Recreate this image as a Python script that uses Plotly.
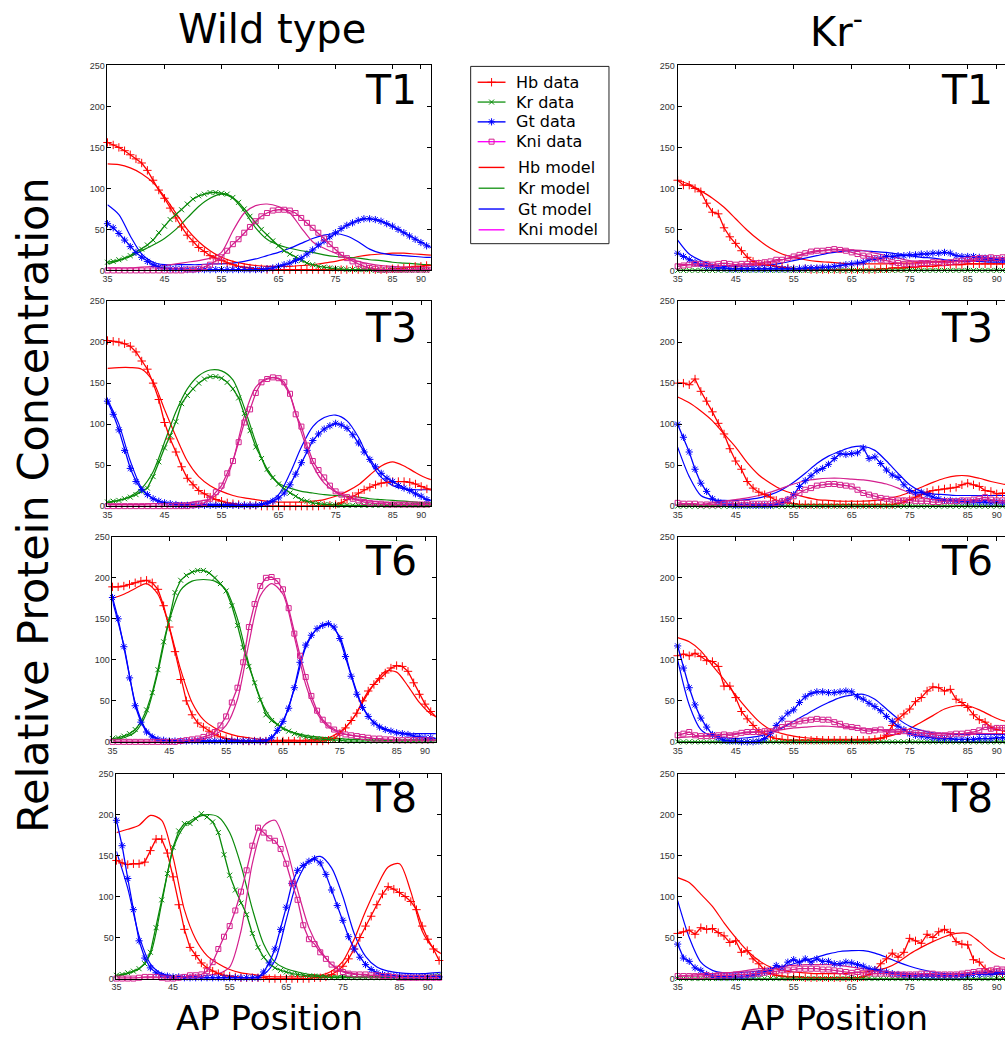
import plotly.graph_objects as go

W, H = 1005, 1040

# ---------------- x positions (AP %) ----------------
AP_DATA = [35, 36, 37, 38, 39, 40, 41, 42, 43, 44,
           45, 46, 47, 48, 49, 50, 51, 52, 53, 54,
           55, 56, 57, 58, 59, 60, 61, 62, 63, 64,
           65, 66, 67, 68, 69, 70, 71, 72, 73, 74,
           75, 76, 77, 78, 79, 80, 81, 82, 83, 84,
           85, 86, 87, 88, 89, 90, 91, 92]
AP_MODEL = [35, 37, 39, 41, 43, 45, 47, 49, 51, 53,
            55, 57, 59, 61, 63, 65, 67, 69, 71, 73,
            75, 77, 79, 81, 83, 85, 87, 89, 91, 93]

X_TICKS = [35, 45, 55, 65, 75, 85, 90]
Y_TICKS = [0, 50, 100, 150, 200, 250]

# ---------------- Wild type T1 ----------------
WT_T1_HB_DATA = [156, 153, 150, 146, 141, 136, 131, 122, 110, 98,
                 88, 76, 64, 53, 43, 35, 28, 23, 18, 15,
                 12, 9, 7, 5, 4, 3, 2, 2, 1, 1,
                 1, 1, 1, 1, 1, 1, 1, 1, 1, 1,
                 1, 1, 1, 1, 1, 1, 1, 1, 1, 1,
                 2, 2, 3, 4, 5, 5, 6, 6]
WT_T1_HB_MODEL = [130, 129, 125, 118, 107, 90, 70, 50, 35, 24,
                  16, 11, 8, 6, 5, 5, 5, 6, 7, 9,
                  11, 14, 17, 19, 20, 21, 21, 20, 19, 18]
WT_T1_KR_DATA = [10, 11, 13, 15, 18, 22, 26, 31, 37, 46,
                 54, 62, 68, 74, 81, 87, 91, 93, 95, 95,
                 94, 93, 89, 83, 75, 66, 58, 50, 43, 36,
                 30, 24, 20, 16, 12, 9, 7, 5, 4, 3,
                 2, 2, 1, 1, 1, 1, 1, 0, 0, 0,
                 0, 0, 0, 0, 0, 0, 0, 0]
WT_T1_KR_MODEL = [8, 12, 17, 24, 31, 39, 50, 64, 78, 88,
                  93, 88, 72, 52, 38, 31, 27, 24, 22, 19,
                  17, 16, 15, 13, 12, 10, 9, 8, 7, 7]
WT_T1_GT_DATA = [57, 52, 45, 37, 29, 22, 16, 11, 7, 4,
                 3, 2, 2, 2, 1, 1, 1, 1, 1, 1,
                 1, 1, 1, 1, 1, 1, 1, 1, 2, 3,
                 5, 7, 9, 12, 15, 20, 25, 31, 36, 41,
                 46, 51, 55, 58, 61, 63, 63, 62, 60, 57,
                 54, 50, 46, 42, 38, 34, 30, 27]
WT_T1_GT_MODEL = [80, 68, 42, 20, 10, 7, 7, 7, 7, 8,
                  8, 9, 11, 14, 18, 22, 27, 33, 39, 43,
                  45, 42, 35, 26, 21, 19, 18, 17, 16, 16]
WT_T1_KNI_DATA = [0, 0, 0, 0, 0, 0, 0, 0, 0, 0,
                  0, 0, 0, 0, 1, 1, 2, 4, 7, 11,
                  16, 24, 32, 38, 46, 53, 60, 66, 70, 73,
                  74, 74, 73, 70, 64, 58, 52, 46, 39, 32,
                  25, 19, 15, 11, 8, 5, 3, 2, 1, 1,
                  1, 1, 1, 1, 1, 1, 1, 1]
WT_T1_KNI_MODEL = [3, 3, 3, 4, 5, 6, 8, 10, 12, 15,
                   22, 48, 70, 79, 81, 78, 70, 52, 35, 27,
                   21, 16, 11, 8, 6, 5, 4, 3, 3, 3]

# ---------------- Wild type T3 ----------------
WT_T3_HB_DATA = [202, 201, 200, 198, 195, 188, 177, 167, 150, 130,
                 102, 82, 66, 48, 34, 26, 19, 15, 11, 8,
                 6, 4, 3, 2, 1, 1, 1, 0, 0, 0,
                 0, 0, 0, 0, 0, 0, 0, 0, 1, 1,
                 2, 4, 8, 12, 16, 20, 23, 26, 28, 29,
                 30, 30, 30, 29, 27, 24, 21, 19]
WT_T3_HB_MODEL = [168, 169, 169, 167, 152, 118, 85, 55, 36, 25,
                  18, 13, 10, 8, 6, 5, 5, 5, 6, 8,
                  12, 18, 26, 38, 49, 54, 49, 41, 34, 30]
WT_T3_KR_DATA = [5, 6, 7, 9, 11, 14, 18, 22, 36, 54,
                 71, 86, 103, 125, 135, 143, 150, 155, 158, 158,
                 156, 151, 143, 132, 113, 92, 72, 58, 45, 35,
                 27, 21, 16, 12, 8, 6, 4, 3, 2, 2,
                 1, 1, 1, 1, 1, 1, 1, 1, 1, 1,
                 1, 1, 1, 1, 1, 1, 1, 1]
WT_T3_KR_MODEL = [4, 7, 12, 22, 42, 78, 115, 143, 159, 166,
                  165, 154, 120, 78, 43, 28, 22, 18, 16, 14,
                  13, 12, 11, 9, 8, 7, 6, 5, 4, 4]
WT_T3_GT_DATA = [128, 112, 93, 68, 46, 30, 20, 14, 9, 6,
                 4, 3, 2, 1, 1, 1, 1, 1, 1, 1,
                 1, 1, 1, 1, 1, 1, 1, 2, 3, 6,
                 10, 16, 26, 39, 53, 68, 80, 88, 94, 98,
                 101, 99, 95, 87, 77, 66, 57, 48, 40, 34,
                 30, 25, 22, 19, 15, 12, 8, 6]
WT_T3_GT_MODEL = [130, 100, 55, 22, 9, 4, 3, 2, 2, 2,
                  2, 2, 2, 2, 5, 14, 40, 72, 97, 108,
                  111, 104, 84, 55, 35, 25, 21, 20, 20, 20]
WT_T3_KNI_DATA = [0, 0, 0, 0, 0, 0, 0, 0, 0, 0,
                  0, 0, 0, 0, 0, 1, 2, 4, 9, 17,
                  25, 40, 55, 78, 102, 118, 138, 151, 155, 157,
                  156, 151, 137, 112, 97, 74, 55, 44, 35, 25,
                  18, 14, 11, 9, 7, 5, 4, 3, 3, 2,
                  2, 2, 2, 2, 2, 2, 2, 2]
WT_T3_KNI_MODEL = [2, 2, 2, 2, 3, 3, 4, 4, 6, 9,
                   20, 55, 110, 145, 156, 155, 135, 90, 50, 28,
                   17, 11, 8, 6, 5, 4, 4, 3, 3, 3]

# ---------------- Wild type T6 ----------------
WT_T6_HB_DATA = [189, 189, 190, 192, 194, 196, 197, 194, 186, 166,
                 140, 110, 76, 50, 33, 23, 18, 13, 9, 6,
                 4, 3, 2, 1, 1, 1, 1, 1, 1, 1,
                 1, 1, 1, 1, 1, 1, 1, 1, 2, 4,
                 10, 17, 26, 35, 50, 62, 70, 77, 84, 90,
                 93, 92, 86, 72, 58, 46, 37, 30]
WT_T6_HB_MODEL = [175, 180, 187, 193, 180, 140, 88, 48, 27, 17,
                  11, 7, 5, 3, 2, 2, 2, 2, 3, 5,
                  12, 25, 48, 70, 86, 85, 68, 48, 34, 28]
WT_T6_KR_DATA = [4, 5, 7, 10, 15, 24, 39, 60, 88, 122,
                 150, 182, 197, 203, 207, 209, 209, 206, 200, 193,
                 184, 166, 142, 115, 92, 72, 51, 33, 26, 21,
                 16, 13, 10, 8, 6, 5, 4, 3, 3, 2,
                 2, 1, 1, 1, 1, 1, 1, 1, 1, 1,
                 1, 1, 1, 1, 1, 1, 1, 1]
WT_T6_KR_MODEL = [2, 5, 12, 35, 85, 148, 185, 196, 198, 196,
                  185, 150, 95, 52, 28, 17, 11, 8, 6, 5,
                  4, 3, 3, 2, 2, 2, 2, 2, 2, 2]
WT_T6_GT_DATA = [176, 150, 116, 78, 44, 24, 12, 6, 3, 2,
                 1, 1, 1, 1, 1, 1, 1, 1, 1, 1,
                 1, 1, 1, 1, 1, 1, 1, 1, 5, 14,
                 25, 41, 66, 97, 118, 130, 138, 142, 144, 140,
                 126, 104, 80, 58, 42, 31, 23, 18, 15, 13,
                 11, 10, 9, 7, 6, 5, 5, 4]
WT_T6_GT_MODEL = [172, 118, 48, 14, 4, 2, 1, 1, 1, 1,
                  1, 1, 1, 1, 5, 24, 65, 115, 138, 144,
                  128, 82, 43, 24, 16, 12, 10, 10, 10, 10]
WT_T6_KNI_DATA = [0, 0, 0, 0, 0, 0, 0, 0, 0, 0,
                  0, 0, 1, 2, 3, 4, 6, 8, 12, 20,
                  31, 48, 66, 97, 140, 168, 190, 200, 201, 196,
                  186, 163, 132, 105, 79, 56, 38, 27, 20, 15,
                  11, 9, 8, 7, 6, 5, 4, 4, 3, 3,
                  2, 2, 2, 2, 2, 2, 2, 2]
WT_T6_KNI_MODEL = [1, 1, 1, 1, 1, 1, 1, 2, 4, 8,
                   20, 52, 120, 178, 193, 180, 128, 70, 35, 18,
                   11, 8, 6, 4, 3, 2, 2, 2, 2, 2]

# ---------------- Wild type T8 ----------------
WT_T8_HB_DATA = [144, 141, 139, 140, 140, 142, 156, 170, 170, 153,
                 124, 90, 60, 38, 28, 19, 13, 9, 6, 4,
                 3, 2, 1, 1, 1, 1, 1, 0, 0, 0,
                 0, 0, 0, 0, 0, 1, 1, 2, 5, 9,
                 15, 24, 36, 50, 64, 76, 90, 103, 112, 109,
                 105, 100, 94, 84, 64, 48, 36, 22]
WT_T8_HB_MODEL = [178, 182, 187, 199, 193, 148, 84, 48, 28, 18,
                  11, 7, 5, 3, 2, 2, 2, 3, 4, 9,
                  21, 48, 82, 112, 136, 140, 106, 58, 37, 28]
WT_T8_KR_DATA = [4, 5, 7, 9, 12, 18, 32, 62, 96, 128,
                 160, 180, 189, 189, 195, 201, 197, 191, 178, 151,
                 126, 108, 92, 78, 55, 38, 26, 18, 13, 10,
                 8, 6, 5, 4, 3, 3, 2, 2, 1, 1,
                 1, 1, 1, 1, 1, 1, 1, 1, 1, 1,
                 1, 1, 1, 1, 2, 2, 3, 4]
WT_T8_KR_MODEL = [3, 6, 12, 30, 92, 158, 186, 196, 200, 197,
                  178, 138, 85, 42, 20, 12, 8, 5, 4, 3,
                  3, 2, 2, 2, 2, 2, 2, 2, 2, 2]
WT_T8_GT_DATA = [193, 162, 122, 84, 46, 25, 13, 7, 4, 3,
                 2, 2, 1, 1, 1, 1, 1, 1, 1, 1,
                 1, 1, 1, 1, 1, 1, 8, 19, 36, 60,
                 87, 116, 132, 138, 143, 146, 141, 127, 108, 89,
                 71, 51, 36, 26, 17, 11, 7, 5, 4, 3,
                 3, 2, 2, 2, 2, 2, 2, 2]
WT_T8_GT_MODEL = [155, 110, 52, 18, 6, 3, 2, 1, 1, 1,
                  1, 1, 1, 5, 22, 72, 120, 143, 149, 135,
                  100, 55, 27, 14, 9, 7, 6, 6, 7, 8]
WT_T8_KNI_DATA = [0, 0, 0, 0, 1, 2, 2, 2, 1, 0,
                  0, 1, 2, 4, 4, 5, 9, 20, 36, 51,
                  64, 83, 106, 132, 162, 184, 178, 171, 168, 158,
                  140, 116, 96, 65, 48, 42, 32, 24, 17, 12,
                  8, 6, 5, 5, 5, 4, 4, 3, 3, 2,
                  1, 1, 1, 1, 1, 1, 1, 1]
WT_T8_KNI_MODEL = [1, 1, 1, 1, 1, 1, 2, 2, 4, 6,
                   14, 58, 140, 186, 193, 160, 108, 62, 35, 17,
                   9, 6, 4, 3, 2, 2, 1, 1, 1, 1]

# ---------------- Kr- mutant: Kr is absent ----------------
KR_MUT_DATA = [0, 0, 0, 0, 0, 0, 0, 0, 0, 0,
               0, 0, 0, 0, 0, 0, 0, 0, 0, 0,
               0, 0, 0, 0, 0, 0, 0, 0, 0, 0,
               0, 0, 0, 0, 0, 0, 0, 0, 0, 0,
               0, 0, 0, 0, 0, 0, 0, 0, 0, 0,
               0, 0, 0, 0, 0, 0, 0, 0]
KR_MUT_MODEL = [0, 0, 0, 0, 0, 0, 0, 0, 0, 0,
                0, 0, 0, 0, 0, 0, 0, 0, 0, 0,
                0, 0, 0, 0, 0, 0, 0, 0, 0, 0]

# ---------------- Kr- T1 ----------------
KM_T1_HB_DATA = [110, 104, 104, 100, 96, 82, 71, 69, 52, 41,
                 33, 24, 16, 11, 8, 7, 6, 5, 4, 3,
                 2, 2, 2, 1, 1, 1, 1, 1, 1, 1,
                 1, 1, 1, 1, 1, 2, 2, 3, 3, 3,
                 4, 4, 5, 5, 5, 6, 6, 7, 7, 7,
                 8, 8, 8, 8, 8, 8, 8, 8]
KM_T1_HB_MODEL = [110, 105, 97, 88, 77, 63, 49, 37, 27, 20,
                  16, 13, 11, 10, 9, 8, 8, 8, 8, 9,
                  9, 10, 11, 11, 12, 12, 12, 12, 12, 12]
KM_T1_GT_DATA = [21, 17, 13, 10, 7, 5, 4, 3, 3, 2,
                 2, 2, 2, 2, 2, 2, 2, 2, 2, 2,
                 2, 2, 3, 3, 3, 4, 4, 5, 6, 7,
                 8, 9, 10, 13, 14, 15, 17, 17, 18, 18,
                 19, 19, 20, 20, 21, 21, 22, 21, 18, 17,
                 17, 17, 16, 15, 14, 13, 13, 12]
KM_T1_GT_MODEL = [37, 20, 12, 7, 5, 5, 5, 6, 7, 9,
                  12, 15, 18, 21, 23, 24, 24, 23, 22, 20,
                  18, 16, 15, 13, 12, 11, 11, 10, 10, 10]
KM_T1_KNI_DATA = [5, 6, 7, 8, 8, 8, 7, 8, 9, 8,
                  7, 8, 8, 9, 9, 10, 11, 13, 13, 15,
                  17, 19, 21, 23, 24, 24, 25, 26, 25, 24,
                  22, 20, 18, 17, 15, 13, 12, 10, 9, 8,
                  8, 8, 9, 9, 10, 10, 9, 10, 11, 12,
                  13, 14, 15, 15, 16, 15, 16, 15]
KM_T1_KNI_MODEL = [7, 7, 6, 6, 6, 6, 7, 8, 10, 13,
                   16, 20, 23, 25, 25, 25, 24, 21, 18, 15,
                   12, 11, 10, 10, 11, 12, 13, 14, 14, 14]

# ---------------- Kr- T3 ----------------
KM_T3_HB_DATA = [150, 150, 148, 155, 140, 128, 115, 101, 88, 70,
                 55, 45, 30, 22, 17, 14, 11, 7, 5, 4,
                 3, 2, 2, 2, 2, 2, 2, 2, 2, 2,
                 2, 2, 2, 2, 2, 2, 2, 2, 3, 5,
                 8, 11, 14, 17, 19, 20, 21, 22, 23, 26,
                 28, 26, 24, 19, 18, 15, 16, 16]
KM_T3_HB_MODEL = [133, 126, 116, 104, 88, 72, 53, 38, 28, 20,
                  15, 11, 8, 7, 6, 6, 6, 7, 9, 12,
                  17, 23, 29, 34, 37, 37, 34, 30, 27, 25]
KM_T3_GT_DATA = [100, 84, 66, 45, 28, 18, 9, 5, 3, 2,
                 1, 1, 1, 1, 1, 1, 1, 2, 4, 8,
                 14, 24, 31, 37, 43, 46, 51, 58, 64, 63,
                 64, 65, 71, 58, 60, 52, 44, 38, 35, 26,
                 19, 16, 17, 14, 11, 9, 7, 7, 6, 6,
                 5, 5, 5, 5, 4, 5, 4, 4]
KM_T3_GT_MODEL = [72, 36, 13, 8, 7, 7, 8, 10, 14, 20,
                  29, 40, 52, 61, 67, 72, 73, 68, 55, 40,
                  26, 18, 15, 14, 13, 13, 13, 13, 13, 13]
KM_T3_KNI_DATA = [4, 3, 3, 3, 2, 2, 2, 2, 3, 3,
                  3, 4, 4, 3, 3, 3, 3, 4, 6, 8,
                  12, 16, 20, 22, 25, 26, 27, 27, 26, 25,
                  24, 20, 16, 14, 12, 10, 9, 8, 7, 7,
                  7, 6, 6, 6, 5, 5, 6, 6, 6, 7,
                  7, 8, 9, 11, 8, 7, 7, 6]
KM_T3_KNI_MODEL = [2, 2, 2, 4, 6, 8, 10, 13, 17, 22,
                   27, 31, 33, 34, 34, 33, 32, 30, 27, 22,
                   16, 11, 8, 7, 7, 7, 7, 7, 7, 7]

# ---------------- Kr- T6 ----------------
KM_T6_HB_DATA = [105, 107, 105, 108, 104, 99, 98, 92, 68, 68,
                 54, 37, 28, 20, 13, 10, 6, 4, 3, 2,
                 2, 2, 2, 2, 2, 2, 2, 2, 2, 2,
                 2, 2, 2, 2, 3, 4, 8, 20, 28, 34,
                 40, 49, 54, 62, 67, 66, 62, 64, 52, 48,
                 42, 33, 27, 24, 18, 15, 14, 12]
KM_T6_HB_MODEL = [127, 122, 111, 93, 76, 57, 40, 25, 15, 10,
                  7, 5, 4, 3, 3, 3, 3, 4, 6, 10,
                  16, 24, 32, 40, 44, 44, 39, 32, 26, 23]
KM_T6_GT_DATA = [117, 90, 66, 45, 29, 18, 9, 5, 2, 1,
                 1, 0, 0, 0, 1, 4, 10, 20, 28, 35,
                 39, 48, 55, 59, 61, 61, 60, 60, 61, 62,
                 61, 55, 52, 47, 43, 38, 31, 25, 19, 15,
                 10, 8, 7, 6, 5, 4, 4, 4, 3, 3,
                 3, 3, 4, 4, 4, 5, 5, 5]
KM_T6_GT_MODEL = [100, 45, 15, 7, 5, 4, 5, 7, 11, 17,
                  25, 33, 41, 48, 54, 57, 58, 52, 40, 28,
                  19, 14, 11, 10, 9, 9, 9, 9, 9, 9]
KM_T6_KNI_DATA = [8, 10, 12, 8, 7, 7, 7, 8, 9, 8,
                  9, 11, 12, 12, 12, 13, 13, 15, 18, 22,
                  22, 25, 26, 27, 28, 27, 27, 24, 22, 19,
                  18, 17, 14, 13, 14, 15, 12, 12, 12, 13,
                  12, 11, 11, 10, 9, 8, 8, 9, 10, 10,
                  11, 12, 14, 18, 16, 17, 17, 17]
KM_T6_KNI_MODEL = [5, 6, 7, 8, 9, 10, 11, 12, 13, 15,
                   17, 18, 19, 19, 18, 17, 16, 15, 14, 13,
                   12, 11, 10, 10, 10, 10, 10, 10, 10, 10]

# ---------------- Kr- T8 ----------------
KM_T8_HB_DATA = [55, 57, 59, 54, 62, 60, 61, 56, 52, 44,
                 46, 32, 34, 24, 18, 10, 6, 4, 3, 2,
                 2, 2, 1, 1, 1, 1, 1, 1, 1, 1,
                 1, 1, 2, 5, 10, 18, 24, 31, 26, 32,
                 49, 46, 43, 54, 50, 57, 60, 56, 45, 42,
                 41, 23, 20, 12, 8, 6, 5, 5]
KM_T8_HB_MODEL = [123, 117, 103, 88, 68, 50, 34, 22, 14, 10,
                  8, 7, 6, 6, 6, 7, 8, 10, 13, 20,
                  30, 38, 45, 51, 55, 55, 45, 33, 25, 22]
KM_T8_GT_DATA = [42, 25, 21, 13, 10, 5, 3, 2, 2, 2,
                 2, 2, 3, 4, 6, 8, 10, 16, 13, 20,
                 23, 20, 24, 20, 24, 21, 21, 18, 18, 20,
                 19, 17, 15, 12, 11, 9, 8, 6, 5, 4,
                 3, 3, 3, 3, 3, 3, 3, 3, 3, 3,
                 4, 5, 5, 6, 6, 7, 7, 7]
KM_T8_GT_MODEL = [95, 50, 20, 10, 7, 7, 8, 9, 11, 14,
                  18, 22, 26, 30, 33, 34, 34, 31, 26, 20,
                  15, 11, 8, 6, 5, 5, 5, 5, 5, 5]
KM_T8_KNI_DATA = [3, 3, 3, 3, 3, 4, 3, 4, 4, 4,
                  5, 5, 5, 6, 6, 7, 8, 9, 10, 10,
                  11, 12, 12, 12, 12, 11, 11, 10, 9, 8,
                  7, 8, 7, 7, 6, 6, 6, 5, 5, 5,
                  5, 5, 6, 6, 6, 5, 5, 5, 5, 6,
                  7, 8, 9, 9, 10, 12, 11, 11]
KM_T8_KNI_MODEL = [3, 4, 5, 6, 7, 8, 10, 12, 13, 15,
                   16, 17, 17, 17, 16, 14, 12, 10, 8, 7,
                   6, 5, 5, 5, 6, 7, 7, 8, 8, 8]

# ---------------- labels ----------------
COLUMN_TITLES = ["Wild type", "Kr<sup>-</sup>"]
TIME_LABELS = ["T1", "T3", "T6", "T8"]
GENES = ["Hb", "Kr", "Gt", "Kni"]

# ---------------- styling ----------------
COLORS = {"Hb": "#ff0000", "Kr": "#0a8a0a", "Gt": "#0000ff", "Kni": "#d4208e"}
LEGEND_COLORS = {"Hb": "#ff0000", "Kr": "#229922", "Gt": "#0000ff", "Kni": "#ff00ff"}
SYMBOLS = {"Hb": "cross-thin-open", "Kr": "x-thin-open", "Gt": "asterisk-open", "Kni": "square-open"}
MSIZE = {"Hb": 6, "Kr": 5, "Gt": 6, "Kni": 5}
FONT_BIG = "DejaVu Sans"
FONT_TICK = "Liberation Sans, Arial, sans-serif"

# panel definitions: (row, col, series)
PANELS = [
    (0, 0, {"Hb": (WT_T1_HB_DATA, WT_T1_HB_MODEL), "Kr": (WT_T1_KR_DATA, WT_T1_KR_MODEL),
            "Gt": (WT_T1_GT_DATA, WT_T1_GT_MODEL), "Kni": (WT_T1_KNI_DATA, WT_T1_KNI_MODEL)}),
    (1, 0, {"Hb": (WT_T3_HB_DATA, WT_T3_HB_MODEL), "Kr": (WT_T3_KR_DATA, WT_T3_KR_MODEL),
            "Gt": (WT_T3_GT_DATA, WT_T3_GT_MODEL), "Kni": (WT_T3_KNI_DATA, WT_T3_KNI_MODEL)}),
    (2, 0, {"Hb": (WT_T6_HB_DATA, WT_T6_HB_MODEL), "Kr": (WT_T6_KR_DATA, WT_T6_KR_MODEL),
            "Gt": (WT_T6_GT_DATA, WT_T6_GT_MODEL), "Kni": (WT_T6_KNI_DATA, WT_T6_KNI_MODEL)}),
    (3, 0, {"Hb": (WT_T8_HB_DATA, WT_T8_HB_MODEL), "Kr": (WT_T8_KR_DATA, WT_T8_KR_MODEL),
            "Gt": (WT_T8_GT_DATA, WT_T8_GT_MODEL), "Kni": (WT_T8_KNI_DATA, WT_T8_KNI_MODEL)}),
    (0, 1, {"Hb": (KM_T1_HB_DATA, KM_T1_HB_MODEL), "Kr": (KR_MUT_DATA, KR_MUT_MODEL),
            "Gt": (KM_T1_GT_DATA, KM_T1_GT_MODEL), "Kni": (KM_T1_KNI_DATA, KM_T1_KNI_MODEL)}),
    (1, 1, {"Hb": (KM_T3_HB_DATA, KM_T3_HB_MODEL), "Kr": (KR_MUT_DATA, KR_MUT_MODEL),
            "Gt": (KM_T3_GT_DATA, KM_T3_GT_MODEL), "Kni": (KM_T3_KNI_DATA, KM_T3_KNI_MODEL)}),
    (2, 1, {"Hb": (KM_T6_HB_DATA, KM_T6_HB_MODEL), "Kr": (KR_MUT_DATA, KR_MUT_MODEL),
            "Gt": (KM_T6_GT_DATA, KM_T6_GT_MODEL), "Kni": (KM_T6_KNI_DATA, KM_T6_KNI_MODEL)}),
    (3, 1, {"Hb": (KM_T8_HB_DATA, KM_T8_HB_MODEL), "Kr": (KR_MUT_DATA, KR_MUT_MODEL),
            "Gt": (KM_T8_GT_DATA, KM_T8_GT_MODEL), "Kni": (KM_T8_KNI_DATA, KM_T8_KNI_MODEL)}),
]

# pixel geometry of the panels
ROW_Y = [(61, 268), (299, 506), (537, 744), (776, 983)]
LEFT_X = [(103, 428), (103, 428), (108, 433), (112, 438)]
LEFT_XMAX = [91.75, 91.7, 91.9, 92.3]
RIGHT_X = (676, 1005)
RIGHT_XMAX = 91.43


def px(x):
    return x / W


def py(y):
    return 1 - y / H


fig = go.Figure()
layout = {}

for i, (row, col, series) in enumerate(PANELS):
    n = i + 1
    xa = "x" if n == 1 else f"x{n}"
    ya = "y" if n == 1 else f"y{n}"
    xkey = "xaxis" if n == 1 else f"xaxis{n}"
    ykey = "yaxis" if n == 1 else f"yaxis{n}"
    y0, y1 = ROW_Y[row]
    if col == 0:
        x0, x1 = LEFT_X[row]
        xmax = LEFT_XMAX[row]
        ymirror = "ticks"
    else:
        x0, x1 = RIGHT_X
        xmax = RIGHT_XMAX
        ymirror = False

    common = dict(showgrid=False, zeroline=False, showline=True, linecolor="black",
                  linewidth=1, ticks="inside", ticklen=4, tickwidth=1, tickcolor="black",
                  tickfont=dict(family=FONT_TICK, size=9, color="#333333"))
    layout[xkey] = dict(common, domain=[px(x0), px(x1)], range=[35, xmax], anchor=ya,
                        tickvals=X_TICKS, ticktext=[str(t) for t in X_TICKS], mirror="ticks")
    layout[ykey] = dict(common, domain=[py(y1), py(y0)], range=[0, 250], anchor=xa,
                        tickvals=Y_TICKS, ticktext=[str(t) for t in Y_TICKS], mirror=ymirror)

    # models
    for g in GENES:
        fig.add_trace(go.Scatter(x=AP_MODEL, y=series[g][1], mode="lines", xaxis=xa, yaxis=ya,
                                 line=dict(color=COLORS[g], width=1.2, shape="spline", smoothing=0.8),
                                 showlegend=False, hoverinfo="skip"))
    # data
    for g in GENES:
        fig.add_trace(go.Scatter(x=AP_DATA, y=series[g][0], mode="lines+markers", xaxis=xa, yaxis=ya,
                                 line=dict(color=COLORS[g], width=1.3),
                                 marker=dict(symbol=SYMBOLS[g], size=MSIZE[g], color=COLORS[g],
                                             line=dict(color=COLORS[g], width=1)),
                                 cliponaxis=False, showlegend=False, hoverinfo="skip"))

# ---------------- manual legend (pixel overlay axis) ----------------
layout["xaxis9"] = dict(domain=[0, 1], range=[0, W], visible=False, anchor="y9", fixedrange=True)
layout["yaxis9"] = dict(domain=[0, 1], range=[H, 0], visible=False, anchor="x9", fixedrange=True)

LEG_DATA_Y = [78, 98, 118, 138]
LEG_MODEL_Y = [164, 185, 206, 227]
annotations = []
for g, yy in zip(GENES, LEG_DATA_Y):
    fig.add_trace(go.Scatter(x=[475, 503], y=[yy, yy], mode="lines", xaxis="x9", yaxis="y9",
                             line=dict(color=LEGEND_COLORS[g], width=1.4), showlegend=False,
                             hoverinfo="skip"))
    fig.add_trace(go.Scatter(x=[489], y=[yy], mode="markers", xaxis="x9", yaxis="y9",
                             marker=dict(symbol=SYMBOLS[g], size=MSIZE[g], color=COLORS[g],
                                         line=dict(color=COLORS[g], width=1)),
                             showlegend=False, hoverinfo="skip"))
    annotations.append(dict(x=px(512), y=py(yy), xref="paper", yref="paper", text=f"{g} data",
                            showarrow=False, xanchor="left", yanchor="middle",
                            font=dict(family=FONT_BIG, size=16, color="black")))
for g, yy in zip(GENES, LEG_MODEL_Y):
    fig.add_trace(go.Scatter(x=[476, 502], y=[yy, yy], mode="lines", xaxis="x9", yaxis="y9",
                             line=dict(color=LEGEND_COLORS[g], width=1.4), showlegend=False,
                             hoverinfo="skip"))
    annotations.append(dict(x=px(514), y=py(yy), xref="paper", yref="paper", text=f"{g} model",
                            showarrow=False, xanchor="left", yanchor="middle",
                            font=dict(family=FONT_BIG, size=16, color="black")))

shapes = [dict(type="rect", xref="paper", yref="paper", x0=px(468), x1=px(607),
               y0=py(241), y1=py(62), line=dict(color="#222222", width=1))]

# ---------------- titles and labels ----------------
annotations.append(dict(x=px(268), y=py(24), xref="paper", yref="paper", text=COLUMN_TITLES[0],
                        showarrow=False, xanchor="center", yanchor="middle",
                        font=dict(family=FONT_BIG, size=40, color="black")))
annotations.append(dict(x=px(836), y=py(24), xref="paper", yref="paper", text=COLUMN_TITLES[1],
                        showarrow=False, xanchor="center", yanchor="middle",
                        font=dict(family=FONT_BIG, size=40, color="black")))
for cx in (266, 834):
    annotations.append(dict(x=px(cx), y=py(1023), xref="paper", yref="paper", text="AP Position",
                            showarrow=False, xanchor="center", yanchor="middle",
                            font=dict(family=FONT_BIG, size=34, color="black")))
annotations.append(dict(x=px(28), y=py(505), xref="paper", yref="paper",
                        text="Relative Protein Concentration", textangle=-90,
                        showarrow=False, xanchor="center", yanchor="middle",
                        font=dict(family=FONT_BIG, size=43, color="black")))

LABEL_MID_Y = [86, 326, 561, 801]
for r, lab in enumerate(TIME_LABELS):
    for rx in (416, 995):
        annotations.append(dict(x=px(rx), y=py(LABEL_MID_Y[r]), xref="paper", yref="paper",
                                text=lab, showarrow=False, xanchor="right", yanchor="middle",
                                font=dict(family=FONT_BIG, size=41, color="black")))

fig.update_layout(width=W, height=H, margin=dict(l=0, r=0, t=0, b=0),
                  paper_bgcolor="white", plot_bgcolor="rgba(0,0,0,0)",
                  showlegend=False, annotations=annotations, shapes=shapes, **layout)

fig.write_html("out.html")
